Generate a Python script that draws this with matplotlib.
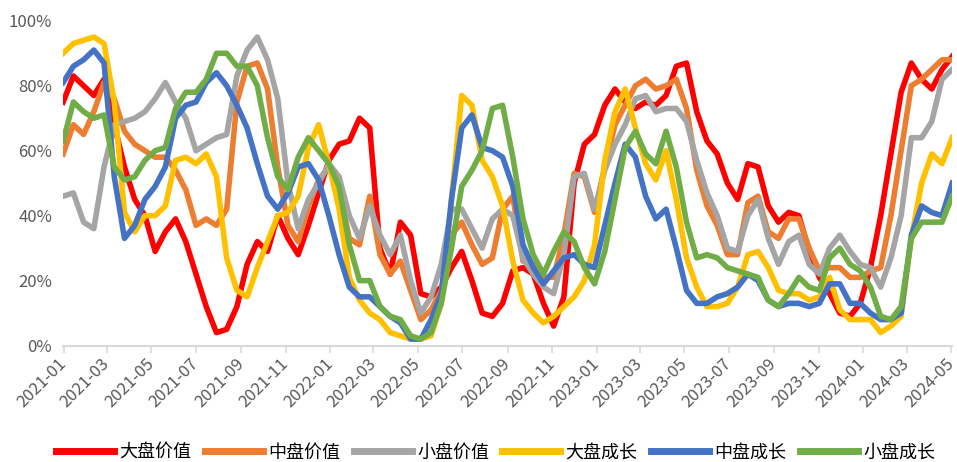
import pandas as pd
import matplotlib
matplotlib.use('Agg')
import matplotlib.pyplot as plt
import matplotlib.dates as mdates

plt.rcParams['font.family'] = ['Noto Sans CJK SC', 'DejaVu Sans']

# biweekly readings, 2020-12-31 .. 2024-05-02
dates = pd.date_range('2020-12-31', periods=88, freq='14D')

large_value = [75, 83, 80, 77, 82, 68, 55, 45, 40, 29, 35, 39, 32, 22, 12, 4, 5, 12, 25, 32, 29, 40, 33,
               28, 37, 47, 57, 62, 63, 70, 67, 30, 22, 38, 34, 16, 15, 18, 24, 29, 20, 10, 9, 13, 23, 24,
               22, 13, 6, 15, 50, 62, 65, 74, 79, 75, 73, 75, 74, 77, 86, 87, 72, 63, 59, 50, 45, 56, 55,
               43, 38, 41, 40, 29, 21, 16, 10, 9, 13, 24, 40, 59, 78, 87, 82, 79, 85, 89]
mid_value = [59, 68, 65, 72, 81, 76, 66, 62, 60, 58, 58, 54, 48, 37, 39, 37, 42, 75, 86, 87, 79, 55, 37,
             32, 43, 51, 55, 48, 33, 31, 46, 28, 22, 26, 17, 8, 11, 17, 34, 38, 31, 25, 27, 42, 46, 26,
             25, 21, 21, 34, 53, 52, 41, 55, 68, 74, 80, 82, 79, 80, 82, 73, 54, 43, 37, 28, 28, 44, 46,
             35, 33, 39, 39, 30, 23, 24, 24, 21, 21, 23, 24, 40, 60, 80, 82, 85, 88, 88]
small_value = [46, 47, 38, 36, 55, 68, 69, 70, 72, 76, 81, 75, 70, 60, 62, 64, 65, 83, 91, 95, 88, 76, 50,
               36, 45, 50, 56, 52, 40, 33, 43, 34, 28, 34, 20, 10, 15, 25, 42, 42, 36, 30, 39, 42, 40, 27,
               22, 18, 16, 28, 52, 53, 42, 54, 62, 68, 76, 77, 72, 73, 73, 69, 57, 47, 40, 30, 29, 40, 45,
               33, 25, 32, 34, 25, 22, 30, 34, 29, 25, 24, 18, 27, 40, 64, 64, 69, 82, 85]
large_growth = [90, 93, 94, 95, 93, 75, 41, 35, 40, 40, 43, 57, 58, 56, 59, 52, 27, 17, 15, 24, 32, 40, 41,
                46, 61, 68, 56, 42, 21, 14, 10, 8, 4, 3, 2, 2, 3, 13, 45, 77, 74, 57, 52, 43, 26, 14,
                10, 7, 9, 12, 15, 20, 31, 57, 72, 79, 67, 56, 51, 60, 45, 27, 18, 12, 12, 13, 18, 28, 29,
                24, 17, 16, 16, 14, 15, 21, 11, 8, 8, 8, 4, 6, 9, 33, 50, 59, 56, 64]
mid_growth = [81, 86, 88, 91, 87, 52, 33, 37, 45, 49, 55, 70, 74, 75, 81, 84, 80, 74, 67, 56, 46, 42, 47,
              55, 56, 51, 40, 28, 18, 15, 15, 12, 9, 7, 2, 2, 8, 16, 45, 67, 71, 61, 60, 58, 49, 31,
              24, 19, 23, 27, 28, 25, 24, 37, 50, 62, 58, 46, 39, 42, 30, 17, 13, 13, 15, 16, 18, 22, 20,
              14, 12, 13, 13, 12, 13, 19, 19, 13, 13, 10, 8, 8, 10, 34, 43, 41, 40, 50]
small_growth = [63, 75, 72, 70, 71, 55, 51, 52, 57, 60, 61, 73, 78, 78, 82, 90, 90, 86, 86, 80, 64, 52, 48,
                58, 64, 60, 56, 49, 31, 20, 20, 12, 9, 8, 3, 2, 4, 13, 30, 49, 54, 60, 73, 74, 58, 39,
                28, 22, 29, 35, 32, 24, 19, 29, 45, 61, 66, 59, 56, 66, 55, 38, 27, 28, 27, 24, 23, 22, 21,
                14, 12, 16, 21, 18, 17, 27, 30, 25, 23, 18, 9, 8, 12, 33, 38, 38, 38, 46]

names = ['大盘价值', '中盘价值', '小盘价值', '大盘成长', '中盘成长', '小盘成长']
colors = ['#FF0000', '#ED7D31', '#A5A5A5', '#FFC000', '#4472C4', '#70AD47']
values = [large_value, mid_value, small_value, large_growth, mid_growth, small_growth]

fig = plt.figure(figsize=(9.57, 4.62), dpi=100)
ax = fig.add_axes([0.066, 0.252, 0.929, 0.703])

for name, vals, c in zip(names, values, colors):
    ax.plot(dates, vals, color=c, linewidth=4, label=name, solid_joinstyle='round')

ax.set_ylim(0, 100)
ax.set_xlim(dates[0], dates[-1])
ax.set_yticks(range(0, 101, 20))
ax.yaxis.set_major_formatter(lambda v, p: f'{v:.0f}%')
ax.xaxis.set_major_locator(mdates.MonthLocator(bymonth=[1, 3, 5, 7, 9, 11]))
ax.xaxis.set_major_formatter(mdates.DateFormatter('%Y-%m'))

for s in ['top', 'right', 'left']:
    ax.spines[s].set_visible(False)
ax.spines['bottom'].set_color('#d9d9d9')
ax.spines['bottom'].set_linewidth(1.5)
ax.tick_params(axis='x', length=5, width=1.2, color='#d9d9d9', labelcolor='#595959', labelsize=12, pad=6)
ax.tick_params(axis='y', length=0, labelcolor='#595959', labelsize=12, pad=8)
plt.setp(ax.get_xticklabels(), rotation=45, ha='right', va='center', rotation_mode='anchor')

leg = fig.legend(loc='center', bbox_to_anchor=(0.518, 0.02), ncol=6, frameon=False, fontsize=13,
                 handlelength=3.2, handletextpad=0.3, columnspacing=0.75)
for h in leg.legend_handles:
    h.set_linewidth(5)

fig.savefig('out.png', dpi=100)
